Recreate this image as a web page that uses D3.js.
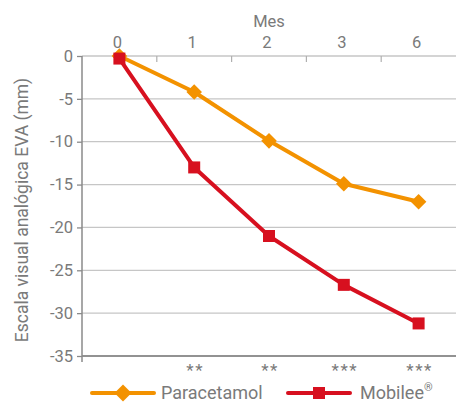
<!DOCTYPE html>
<html>
<head>
<meta charset="utf-8">
<script src="https://cdn.jsdelivr.net/npm/d3@7"></script>
<style>
  body { margin: 0; background: #fff; }
  text { font-family: "Roboto", "Liberation Sans", sans-serif; fill: #7a7a7a; }
</style>
</head>
<body>
<svg id="chart" width="462" height="403"></svg>
<script>
// months on the top axis
const months = ["0", "1", "2", "3", "6"];
const paracetamol = [0, -4.2, -9.9, -14.9, -17.0];
const mobilee = [-0.3, -13.0, -21.0, -26.7, -31.2];
const signif = ["", "**", "**", "***", "***"];
const yTicks = [0, -5, -10, -15, -20, -25, -30, -35];

const orange = "#f39200";
const red = "#d7101f";

const svg = d3.select("#chart");
const margin = {left: 82, right: 6, top: 56, bottom: 46};
const width = 462 - margin.left - margin.right;
const height = 403 - margin.top - margin.bottom;

const g = svg.append("g").attr("transform", `translate(${margin.left},${margin.top})`);

const x = d3.scaleBand().domain(months).range([0, width]);
const y = d3.scaleLinear().domain([0, -35]).range([0, height - 1]);
const cx = d => x(d) + x.bandwidth() / 2;

// grid lines
g.selectAll(".grid")
    .data(yTicks.slice(0, -1))
    .enter().append("line")
    .attr("x1", 0).attr("x2", width)
    .attr("y1", d => y(d)).attr("y2", d => y(d))
    .attr("stroke", "#c6c6c6")
    .attr("stroke-width", 1.3);

// bottom line
g.append("line")
    .attr("x1", 0).attr("x2", width)
    .attr("y1", y(-35)).attr("y2", y(-35))
    .attr("stroke", "#6e6e6e").attr("stroke-width", 1.3);

// left axis
const yAxis = g.append("g")
    .call(d3.axisLeft(y).tickValues(yTicks).tickSize(5).tickPadding(4).tickFormat(d => d === 0 ? "0" : "-" + Math.abs(d)));
yAxis.select(".domain").remove();
yAxis.selectAll(".tick line").attr("stroke", "#8a8a8a").attr("stroke-width", 1.3);
yAxis.selectAll("text").attr("font-size", 16.5).attr("fill", "#7a7a7a")
    .style("font-family", "Roboto, 'Liberation Sans', sans-serif");
g.append("line")
    .attr("x1", 0).attr("x2", 0)
    .attr("y1", 0).attr("y2", height + 5)
    .attr("stroke", "#8a8a8a").attr("stroke-width", 1.5);

// top axis: ticks at band boundaries, labels at centers
g.selectAll(".topTick")
    .data(months.slice(1))
    .enter().append("line")
    .attr("x1", d => x(d)).attr("x2", d => x(d))
    .attr("y1", 0).attr("y2", 6)
    .attr("stroke", "#b0b0b0").attr("stroke-width", 1.2);

g.selectAll(".topLabel")
    .data(months)
    .enter().append("text")
    .attr("x", d => cx(d) - 2)
    .attr("y", -8)
    .attr("text-anchor", "middle")
    .attr("font-size", 16.5)
    .text(d => d);

g.append("text")
    .attr("x", cx("2"))
    .attr("y", -29)
    .attr("text-anchor", "middle")
    .attr("font-size", 16.5)
    .text("Mes");

// y label
svg.append("text")
    .attr("transform", "translate(28,210) rotate(-90)")
    .attr("text-anchor", "middle")
    .attr("font-size", 17.5)
    .text("Escala visual analógica EVA (mm)");

// significance stars
g.selectAll(".star")
    .data(months)
    .enter().append("text")
    .attr("x", d => cx(d) + 1)
    .attr("y", height + 19)
    .attr("text-anchor", "middle")
    .attr("font-size", 17)
    .attr("letter-spacing", 1.5)
    .attr("fill", "#888")
    .text((d, i) => signif[i]);

const line = d3.line().x((d, i) => cx(months[i])).y(d => y(d));

// paracetamol
g.append("path").datum(paracetamol)
    .attr("d", line).attr("fill", "none")
    .attr("stroke", orange).attr("stroke-width", 4).attr("stroke-linejoin", "round");
g.selectAll(".dia")
    .data(paracetamol)
    .enter().append("rect")
    .attr("x", -5.5).attr("y", -5.5).attr("width", 11).attr("height", 11)
    .attr("fill", orange)
    .attr("transform", (d, i) => `translate(${cx(months[i])},${y(d)}) rotate(45)`);

// mobilee
g.append("path").datum(mobilee)
    .attr("d", line).attr("fill", "none")
    .attr("stroke", red).attr("stroke-width", 4).attr("stroke-linejoin", "round");
g.selectAll(".sq")
    .data(mobilee)
    .enter().append("rect")
    .attr("x", (d, i) => cx(months[i]) - 6)
    .attr("y", d => y(d) - 6)
    .attr("width", 12).attr("height", 12)
    .attr("fill", red);

// legend
const legend = svg.append("g").attr("transform", "translate(0,393)");
legend.append("line").attr("x1", 92).attr("x2", 154).attr("y1", 0).attr("y2", 0)
    .attr("stroke", orange).attr("stroke-width", 4).attr("stroke-linecap", "round");
legend.append("rect").attr("x", -6).attr("y", -6).attr("width", 12).attr("height", 12)
    .attr("fill", orange).attr("transform", "translate(123,0) rotate(45)");
legend.append("text").attr("x", 161).attr("y", 6).attr("font-size", 18).text("Paracetamol");

legend.append("line").attr("x1", 288).attr("x2", 350).attr("y1", 0).attr("y2", 0)
    .attr("stroke", red).attr("stroke-width", 4).attr("stroke-linecap", "round");
legend.append("rect").attr("x", 313).attr("y", -6).attr("width", 12).attr("height", 12)
    .attr("fill", red);
const mt = legend.append("text").attr("x", 360).attr("y", 6).attr("font-size", 18);
mt.append("tspan").text("Mobilee");
mt.append("tspan").attr("font-size", 11).attr("dy", -8).text("®");
</script>
</body>
</html>
